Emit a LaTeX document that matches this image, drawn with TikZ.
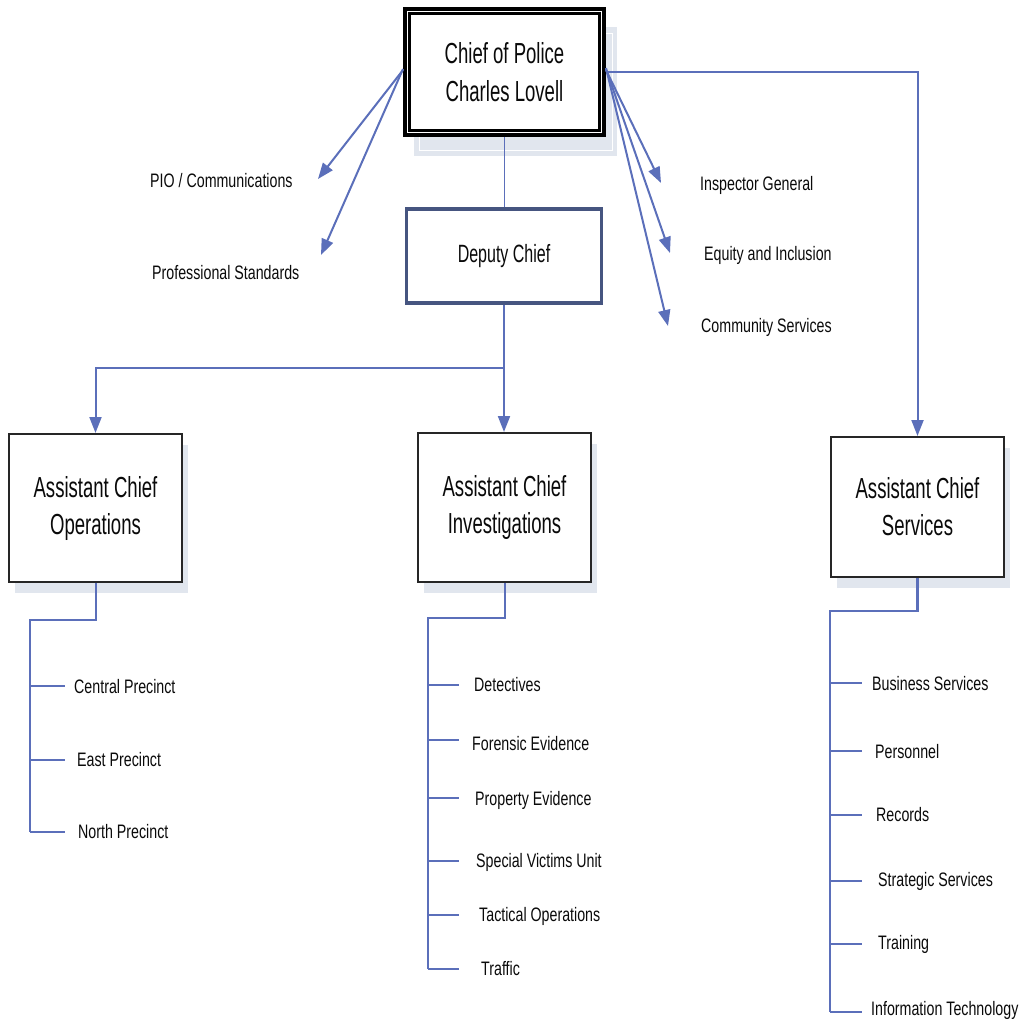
\documentclass[tikz,border=0pt]{standalone}
\usepackage{fontspec}
\setmainfont{Liberation Sans}
\newfontfamily\lblfont[FakeStretch=0.73]{Liberation Sans}
\newfontfamily\boxfont[FakeStretch=0.64]{Liberation Sans}
\usetikzlibrary{arrows.meta,shadows}
\definecolor{linec}{RGB}{91,111,186}
\definecolor{depc}{RGB}{70,85,128}
\definecolor{shadc}{RGB}{225,230,238}
\definecolor{txtc}{RGB}{10,10,10}
\tikzset{
  conn/.style={draw=linec, line width=2pt},
  arr/.style={conn, -{Triangle[length=16pt,width=12pt]}},
  lbl/.style={anchor=west, inner sep=0pt, text=txtc, font=\lblfont\fontsize{19.5}{22}\selectfont},
  acbox/.style={draw=black!85, line width=2pt, fill=white, align=center, text=txtc,
    font=\boxfont\fontsize{29}{37}\selectfont, minimum width=173pt, inner sep=0pt,
    drop shadow={shadow xshift=6pt, shadow yshift=-11pt, fill=shadc, opacity=1}},
}
\begin{document}
\begin{tikzpicture}[x=1pt,y=-1pt]
\useasboundingbox (0,0) rectangle (1025,1025);
% chief shadow
\fill[shadc] (414,27) rectangle (617,156);
\draw[white, line width=0.8pt] (419,33) rectangle (612,150);
% chief
\node[draw=black, line width=4pt, fill=white, minimum width=199pt, minimum height=126pt, inner sep=0pt,
  align=center, text=txtc, font=\boxfont\fontsize{29}{38}\selectfont] (chief) at (504.5,72) {Chief of Police\\Charles Lovell};
\draw[black, line width=3.5pt] ([shift={(6.5,6.5)}]chief.north west) rectangle ([shift={(-6.5,-6.5)}]chief.south east);
% deputy
\node[draw=depc, line width=3.5pt, fill=white, minimum width=195pt, minimum height=94pt, inner sep=0pt,
  text=txtc, font=\boxfont\fontsize{25}{28}\selectfont] (dep) at (504,256) {Deputy Chief};
% assistant chiefs
\node[acbox, minimum height=148pt] (ops) at (95.5,508) {Assistant Chief\\Operations};
\node[acbox, minimum height=149pt] (inv) at (504.5,507.5) {Assistant Chief\\Investigations};
\node[acbox, minimum height=140pt] (serv) at (917.5,507) {Assistant Chief\\Services};
% main connectors
\draw[conn, line width=1.5pt] (chief.south) -- (chief.south |- dep.north);
\coordinate (split) at (504,368);
\draw[conn] (dep.south) -- (split);
\draw[arr] (split) -| (ops.north);
\draw[arr] (split) -- (split |- inv.north);
\draw[arr] (chief.east) -| (serv.north);
% staff arrows
\coordinate (tPIO) at (318,179);
\coordinate (tPS) at (321,255);
\coordinate (tIG) at (661,183);
\coordinate (tEI) at (670,253);
\coordinate (tCS) at (668,326);
\draw[arr] ([yshift=2]chief.west) -- (tPIO);
\draw[arr] ([yshift=3]chief.west) -- (tPS);
\draw[arr] ([yshift=2]chief.east) -- (tIG);
\draw[arr] ([yshift=3]chief.east) -- (tEI);
\draw[arr] ([yshift=4]chief.east) -- (tCS);
\node[lbl] (pio) at (150,181) {PIO / Communications};
\node[lbl] (ps) at (152,273) {Professional Standards};
\node[lbl] (ig) at (700,185) {Inspector General};
\node[lbl] (ei) at (704,255) {Equity and Inclusion};
\node[lbl] (cs) at (701,327) {Community Services};
% operations branch
\coordinate (oB) at (95.5,620);
\coordinate (oV) at (30,620);
\coordinate (oE) at (30,832);
\draw[conn] (ops.south) -- (oB) -- (oV) -- (oE);
\foreach \y/\n in {686/o1,760/o2,832/o3}{
  \coordinate (\n) at (65,\y);
  \draw[conn] (30,\y) -- (\n);
}
\node[lbl] (cp) at (74,687) {Central Precinct};
\node[lbl] (ep) at (77,760) {East Precinct};
\node[lbl] (np) at (78,832) {North Precinct};
% investigations branch
\coordinate (iB) at (504.5,618);
\coordinate (iV) at (428,618);
\coordinate (iE) at (428,969);
\draw[conn] (inv.south) -- (iB) -- (iV) -- (iE);
\foreach \y/\n in {685/i1,740/i2,798/i3,861/i4,915/i5,969/i6}{
  \coordinate (\n) at (459,\y);
  \draw[conn] (428,\y) -- (\n);
}
\node[lbl] (det) at (474,685) {Detectives};
\node[lbl] (fe) at (472,744) {Forensic Evidence};
\node[lbl] (pe) at (475,800) {Property Evidence};
\node[lbl] (svu) at (476,862) {Special Victims Unit};
\node[lbl] (to) at (479,916) {Tactical Operations};
\node[lbl] (tr) at (481,969) {Traffic};
% services branch
\coordinate (sB) at (917.5,611);
\coordinate (sV) at (830,611);
\coordinate (sE) at (830,1012);
\draw[conn, line width=2.4pt] (serv.south) -- (sB) -- (sV) -- (sE);
\foreach \y/\n in {683/s1,751/s2,815/s3,881/s4,944/s5,1012/s6}{
  \coordinate (\n) at (862,\y);
  \draw[conn] (830,\y) -- (\n);
}
\node[lbl] (bs) at (872,684) {Business Services};
\node[lbl] (pers) at (875,752) {Personnel};
\node[lbl] (rec) at (876,815) {Records};
\node[lbl] (ss) at (878,881) {Strategic Services};
\node[lbl] (trn) at (878,944) {Training};
\node[lbl] (it) at (871,1010) {Information Technology};
\end{tikzpicture}
\end{document}
